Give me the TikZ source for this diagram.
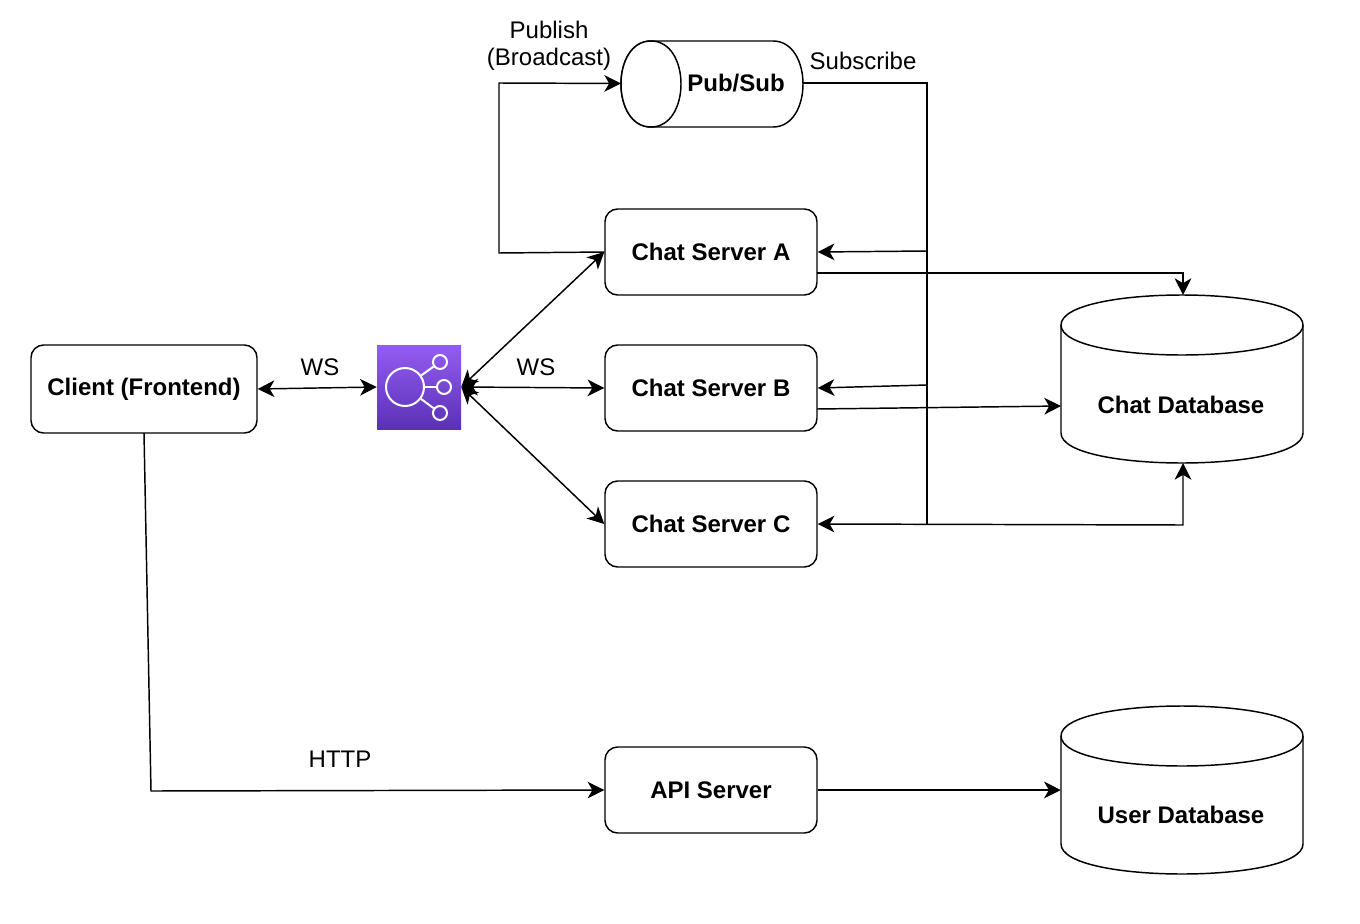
\documentclass[tikz,border=0pt]{standalone}
\usepackage{fontspec}
\setmainfont{Liberation Sans}
\usetikzlibrary{arrows.meta}
\definecolor{lbtop}{HTML}{945DF2}
\definecolor{lbbot}{HTML}{5A30B5}
\tikzset{
  x=0.75pt,y=-0.75pt,
  every node/.style={font=\fontsize{18}{21.6}\selectfont,inner sep=0pt},
  boxnode/.style={draw=black,line width=1.1pt,rounded corners=9.5pt,fill=white,font=\fontsize{18}{21.6}\selectfont\bfseries,minimum width=159pt,minimum height=64.5pt},
  clientnode/.style={boxnode,minimum width=169.5pt,minimum height=66pt},
  shapeline/.style={line width=1.1pt,draw=black,fill=white,line join=round},
  dbspot/.style={font=\fontsize{18}{21.6}\selectfont\bfseries,minimum width=181.5pt,minimum height=126pt},
  pubspot/.style={font=\fontsize{18}{21.6}\selectfont\bfseries},
  edgelabel/.style={align=center},
  conn/.style={line width=1.1pt,draw=black,line join=miter},
  tip/.tip={Stealth[length=12.5pt,width=12.5pt,inset=3.6pt]},
  oneway/.style={conn,-{tip}},
  twoway/.style={conn,{tip}-{tip}},
  iconline/.style={draw=white,line width=1.5pt}
}
\begin{document}
\begin{tikzpicture}
\useasboundingbox (0,0) rectangle (1360,924);

% cylinders
\path[shapeline] (651,41) -- (773,41) .. controls (813,41) and (813,127) .. (773,127) -- (651,127)
  .. controls (611,127) and (611,41) .. (651,41) -- cycle;
\path[shapeline] (651,41) .. controls (611,41) and (611,127) .. (651,127)
  .. controls (691,127) and (691,41) .. (651,41) -- cycle;
\path[shapeline] (1061,325) .. controls (1061,285) and (1303,285) .. (1303,325) -- (1303,433)
  .. controls (1303,473) and (1061,473) .. (1061,433) -- cycle;
\draw[shapeline,fill=none] (1061,325) .. controls (1061,365) and (1303,365) .. (1303,325);
\path[shapeline] (1061,736) .. controls (1061,696) and (1303,696) .. (1303,736) -- (1303,844)
  .. controls (1303,884) and (1061,884) .. (1061,844) -- cycle;
\draw[shapeline,fill=none] (1061,736) .. controls (1061,776) and (1303,776) .. (1303,736);

% nodes
\node[clientnode] (client) at (144,389) {Client (Frontend)};
\node[minimum width=63pt,minimum height=63pt,top color=lbtop,bottom color=lbbot] (lb) at (419,387) {};
\node[boxnode] (srva) at (711,252) {Chat Server A};
\node[boxnode] (srvb) at (711,388) {Chat Server B};
\node[boxnode] (srvc) at (711,524) {Chat Server C};
\node[boxnode] (api) at (711,790) {API Server};
\node[pubspot,minimum width=136.5pt,minimum height=64.5pt] (pub) at (712,84) {};
\node[pubspot] (publabel) at (736,83) {Pub/Sub};
\node[dbspot] (chatdb) at (1182,379) {};
\node[font=\fontsize{18}{21.6}\selectfont\bfseries] (chatdblabel) at (1181,405) {Chat Database};
\node[dbspot] (userdb) at (1182,790) {};
\node[font=\fontsize{18}{21.6}\selectfont\bfseries] (userdblabel) at (1181,815) {User Database};

% icon
\node[circle,draw=white,line width=1.5pt,minimum size=28.5pt] (hub) at (405,387) {};
\node[circle,draw=white,line width=1.5pt,minimum size=10.5pt] (spokea) at (440,362) {};
\node[circle,draw=white,line width=1.5pt,minimum size=10.5pt] (spokeb) at (444,387) {};
\node[circle,draw=white,line width=1.5pt,minimum size=10.5pt] (spokec) at (440,413) {};
\draw[iconline] (hub) -- (spokea);
\draw[iconline] (hub) -- (spokeb);
\draw[iconline] (hub) -- (spokec);

% labels
\node[edgelabel] (wsa) at (320,367) {WS};
\node[edgelabel] (wsb) at (536,367) {WS};
\node[edgelabel] (http) at (340,759) {HTTP};
\node[edgelabel] (publish) at (549,30) {Publish};
\node[edgelabel] (broadcast) at (549,59) {(Broadcast)};
\node[edgelabel] (subscribe) at (863,61) {Subscribe};

% free-end and bend coordinates
\coordinate (pubin) at (621,83.5);
\coordinate (pubout) at (803,83);
\coordinate (bendpa) at (499,253);
\coordinate (bendpb) at (499,83);
\coordinate (trunktop) at (927,83);
\coordinate (trunkbot) at (927,524);
\coordinate (tapa) at (927,251);
\coordinate (tapb) at (927,385);
\coordinate (outa) at (817,273);
\coordinate (bendda) at (1183,273);
\coordinate (dbtop) at (1183,295);
\coordinate (outb) at (817,409);
\coordinate (dbleft) at (1061,406);
\coordinate (bendc) at (1183,525);
\coordinate (dbbot) at (1183,463);
\coordinate (clientbot) at (144,433);
\coordinate (bendapi) at (151,791);

% connectors
\draw[twoway] (client.east) -- (lb.west);
\draw[twoway] (lb.east) -- (srva.west);
\draw[twoway] (lb.east) -- (srvb.west);
\draw[twoway] (lb.east) -- (srvc.west);
\draw[oneway] (srva.west) -- (bendpa) -- (bendpb) -- (pubin);
\draw[conn] (pubout) -- (trunktop) -- (trunkbot);
\draw[oneway] (tapa) -- (srva.east);
\draw[oneway] (tapb) -- (srvb.east);
\draw[oneway] (outa) -- (bendda) -- (dbtop);
\draw[oneway] (outb) -- (dbleft);
\draw[twoway] (srvc.east) -- (bendc) -- (dbbot);
\draw[oneway] (clientbot) -- (bendapi) -- (api.west);
\draw[oneway] (api.east) -- (userdb.west);
\end{tikzpicture}
\end{document}
